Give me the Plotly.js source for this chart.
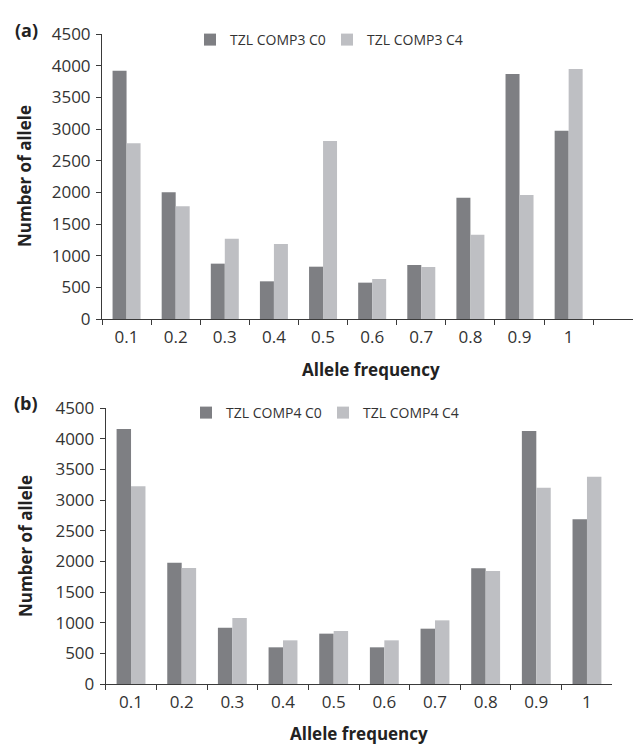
<!DOCTYPE html>
<html>
<head>
<meta charset="utf-8">
<script src="https://cdn.plot.ly/plotly-3.0.1.min.js"></script>
<style>html,body{margin:0;padding:0;background:#fff;}#chart{width:633px;height:745px;}</style>
</head>
<body>
<div id="chart"></div>
<script>
// Categories (allele frequency classes)
const categories = ["0.1","0.2","0.3","0.4","0.5","0.6","0.7","0.8","0.9","1"];

// Panel (a)
const seriesA_names = ["TZL COMP3 C0", "TZL COMP3 C4"];
const comp3_C0 = [3920, 2000, 874, 595, 826, 574, 853, 1916, 3868, 2974];
const comp3_C4 = [2774, 1779, 1268, 1184, 2811, 632, 821, 1332, 1958, 3947];

// Panel (b)
const seriesB_names = ["TZL COMP4 C0", "TZL COMP4 C4"];
const comp4_C0 = [4158, 1978, 918, 598, 821, 598, 902, 1886, 4125, 2685];
const comp4_C4 = [3223, 1891, 1076, 712, 864, 712, 1038, 1842, 3201, 3380];

const yTicks = [0,500,1000,1500,2000,2500,3000,3500,4000,4500];

const darkC = "#7e7f83";
const lightC = "#bebfc3";
const W = 633, H = 745;
const fontFam = "Open Sans, sans-serif";

const traces = [
  {type:"bar", x:categories, y:comp3_C0, name:seriesA_names[0], marker:{color:darkC}, xaxis:"x", yaxis:"y", legend:"legend"},
  {type:"bar", x:categories, y:comp3_C4, name:seriesA_names[1], marker:{color:lightC}, xaxis:"x", yaxis:"y", legend:"legend"},
  {type:"bar", x:categories, y:comp4_C0, name:seriesB_names[0], marker:{color:darkC}, xaxis:"x2", yaxis:"y2", legend:"legend2"},
  {type:"bar", x:categories, y:comp4_C4, name:seriesB_names[1], marker:{color:lightC}, xaxis:"x2", yaxis:"y2", legend:"legend2"}
];

const axisLine = "#3a3a3a";
function xAx(domain, range, anchor){
  return {domain:domain, anchor:anchor, type:"category", range:range,
    showline:true, linecolor:axisLine, linewidth:1, ticks:"outside", tickson:"boundaries",
    ticklen:5, tickcolor:axisLine, tickwidth:1, showgrid:false, zeroline:false,
    tickfont:{family:fontFam, size:17, color:"#333"}, ticklabelstandoff:3, fixedrange:true};
}
function yAx(domain, anchor){
  return {domain:domain, anchor:anchor, range:[0,4500], tickvals:yTicks,
    showline:true, linecolor:axisLine, linewidth:1, ticks:"outside", ticklen:5,
    tickcolor:axisLine, tickwidth:1, showgrid:false, zeroline:false,
    tickfont:{family:fontFam, size:17, color:"#333"}, ticklabelstandoff:2, fixedrange:true};
}

const py = v => 1 - v / H;
const px = v => v / W;

const layout = {
  width:W, height:H, margin:{l:0,r:0,t:0,b:0},
  paper_bgcolor:"#fff", plot_bgcolor:"#fff",
  barmode:"group", bargap:0.43, bargroupgap:0,
  font:{family:fontFam, color:"#333"},
  xaxis: xAx([px(102), 1], [-0.5, 10.31], "y"),
  yaxis: yAx([py(319), py(34)], "x"),
  xaxis2: xAx([px(105.7), px(612.3)], [-0.5, 9.5], "y2"),
  yaxis2: yAx([py(684), py(408)], "x2"),
  showlegend:true,
  legend:{orientation:"h", x:px(190), xanchor:"left", y:py(40), yanchor:"middle",
    font:{family:fontFam, size:14, color:"#333"}, entrywidth:92, bgcolor:"rgba(0,0,0,0)", traceorder:"normal"},
  legend2:{orientation:"h", x:px(186), xanchor:"left", y:py(413), yanchor:"middle",
    font:{family:fontFam, size:14, color:"#333"}, entrywidth:92, bgcolor:"rgba(0,0,0,0)", traceorder:"normal"},
  annotations:[
    {text:"<b>(a)</b>", xref:"paper", yref:"paper", x:px(26), y:py(30), xanchor:"center", yanchor:"middle", showarrow:false, font:{family:fontFam, size:18, color:"#222"}},
    {text:"<b>(b)</b>", xref:"paper", yref:"paper", x:px(26), y:py(403), xanchor:"center", yanchor:"middle", showarrow:false, font:{family:fontFam, size:18, color:"#222"}},
    {text:"<b>Number of allele</b>", xref:"paper", yref:"paper", x:px(25), y:py(176), textangle:-90, xanchor:"center", yanchor:"middle", showarrow:false, font:{family:fontFam, size:17, color:"#222"}},
    {text:"<b>Number of allele</b>", xref:"paper", yref:"paper", x:px(25), y:py(546), textangle:-90, xanchor:"center", yanchor:"middle", showarrow:false, font:{family:fontFam, size:17, color:"#222"}},
    {text:"<b>Allele frequency</b>", xref:"paper", yref:"paper", x:px(371), y:py(370), xanchor:"center", yanchor:"middle", showarrow:false, font:{family:fontFam, size:17, color:"#222"}},
    {text:"<b>Allele frequency</b>", xref:"paper", yref:"paper", x:px(359), y:py(733), xanchor:"center", yanchor:"middle", showarrow:false, font:{family:fontFam, size:17, color:"#222"}}
  ]
};

Plotly.newPlot("chart", traces, layout, {displayModeBar:false, staticPlot:true});
</script>
</body>
</html>
